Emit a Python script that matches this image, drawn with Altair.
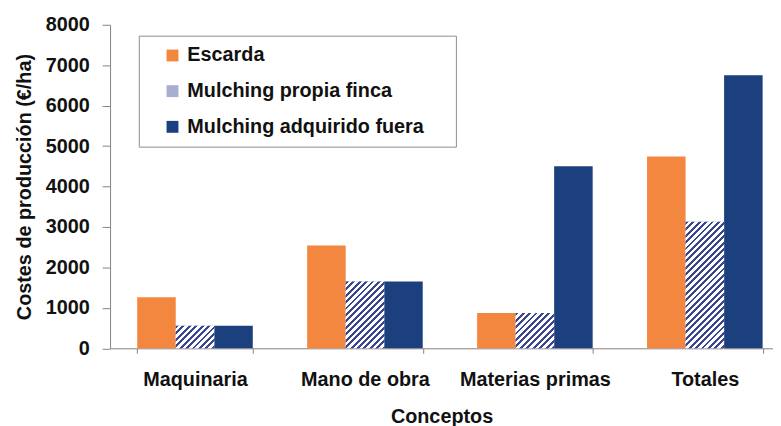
import altair as alt
import pandas as pd

# ---- data ----
conceptos = ["Maquinaria", "Mano de obra", "Materias primas", "Totales"]
series = ["Escarda", "Mulching propia finca", "Mulching adquirido fuera"]
escarda = [1260, 2540, 870, 4740]
propia = [560, 1650, 870, 3130]
fuera = [560, 1650, 4500, 6750]
y_ticks = [0, 1000, 2000, 3000, 4000, 5000, 6000, 7000, 8000]

# ---- styles ----
ORANGE = "#F3873F"
NAVY = "#1C3F7D"
HATCH_DARK = "#3a4690"
LEGEND_HATCH = "#a9aed0"
AXIS_COLOR = "#8a7f7f"
FONT = "Liberation Sans"
FS = 20

W = 669
H = 326.5
YMAX = 8000
STEP = 171.5
PI = 0.32
N = len(conceptos)
PO = (W / STEP - (N - PI)) / 2
ALIGN = 27.4 / (W - STEP * (N - PI))
BAR_W = STEP * (1 - PI) / 3
PERIOD = 6.5
DARK_FRAC = 0.45

rows = []
for i, c in enumerate(conceptos):
    for s, vals in zip(series, [escarda, propia, fuera]):
        rows.append({"Concepto": c, "Serie": s, "Valor": vals[i]})
df = pd.DataFrame(rows)

x_enc = alt.X(
    "Concepto:N",
    sort=conceptos,
    scale=alt.Scale(domain=conceptos, paddingInner=PI, paddingOuter=PO, align=ALIGN),
    axis=alt.Axis(
        title="Conceptos",
        labelAngle=0,
        tickBand="extent",
        tickSize=5,
        labelPadding=17,
        titlePadding=17,
        domainColor=AXIS_COLOR,
        tickColor=AXIS_COLOR,
        labelFontSize=FS,
        labelFontWeight="bold",
        labelColor="#111111",
        titleFontSize=FS,
        titleFontWeight="bold",
        titleColor="#111111",
        labelFont=FONT,
        titleFont=FONT,
    ),
)
xo_enc = alt.XOffset("Serie:N", sort=series, scale=alt.Scale(domain=series))
y_enc = alt.Y(
    "Valor:Q",
    scale=alt.Scale(domain=[0, YMAX], nice=False),
    axis=alt.Axis(
        values=y_ticks,
        format="d",
        title="Costes de producción (€/ha)",
        grid=False,
        tickSize=8,
        labelPadding=13,
        titlePadding=11,
        domainColor=AXIS_COLOR,
        tickColor=AXIS_COLOR,
        labelFontSize=FS,
        labelFontWeight="bold",
        labelColor="#111111",
        titleFontSize=FS,
        titleFontWeight="bold",
        titleColor="#111111",
        labelFont=FONT,
        titleFont=FONT,
    ),
)

base = alt.Chart(df).mark_bar().encode(
    x=x_enc,
    xOffset=xo_enc,
    y=y_enc,
    color=alt.Color(
        "Serie:N",
        sort=series,
        scale=alt.Scale(domain=series, range=[ORANGE, LEGEND_HATCH, NAVY]),
        legend=alt.Legend(
            orient="none",
            legendX=29,
            legendY=11,
            title=" ",
            titleOrient="right",
            titlePadding=22,
            titleFontSize=4,
            strokeColor="#8c8c8c",
            padding=10,
            symbolType="square",
            symbolSize=144,
            symbolOffset=14,
            symbolStrokeWidth=0,
            labelFontSize=FS,
            labelFontWeight="bold",
            labelFont=FONT,
            labelColor="#111111",
            labelOffset=5,
            labelLimit=500,
            rowPadding=16,
        ),
    ),
)


def hatch_gradient(value):
    w = BAR_W
    h = value * H / YMAX
    L = w + h
    lam = L / (w * w + h * h)
    stops = []
    k = 0
    while k * PERIOD < L:
        a = min(1.0, k * PERIOD / L)
        b = min(1.0, (k + DARK_FRAC) * PERIOD / L)
        c = min(1.0, (k + 1) * PERIOD / L)
        stops += [
            {"offset": a, "color": HATCH_DARK},
            {"offset": b, "color": HATCH_DARK},
            {"offset": b, "color": "#ffffff"},
            {"offset": c, "color": "#ffffff"},
        ]
        k += 1
    return {
        "gradient": "linear",
        "x1": 0,
        "y1": 0,
        "x2": lam * w,
        "y2": lam * h,
        "stops": stops,
    }


hatch_layers = []
for c, v in zip(conceptos, propia):
    hatch_layers.append(
        alt.Chart(df)
        .transform_filter((alt.datum.Concepto == c) & (alt.datum.Serie == series[1]))
        .mark_bar(fill=hatch_gradient(v))
        .encode(x=x_enc, xOffset=xo_enc, y=y_enc)
    )

chart = (
    alt.layer(base, *hatch_layers)
    .properties(
        width=W,
        height=H,
        padding={"left": 6, "top": 5, "right": 0, "bottom": 0},
        background="#ffffff",
    )
    .configure_view(stroke=None)
)

chart.save("out.html", embed_options={"renderer": "svg", "actions": False})
